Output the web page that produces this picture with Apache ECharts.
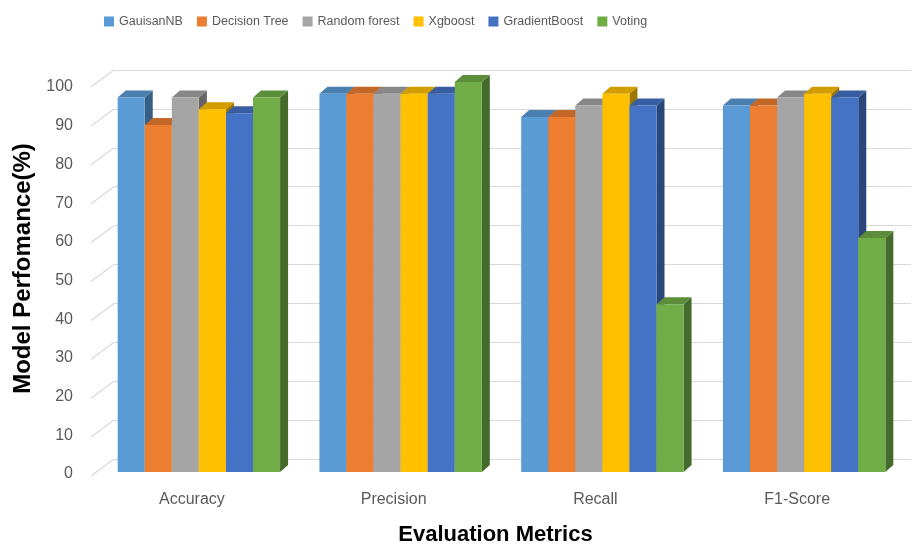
<!DOCTYPE html>
<html><head><meta charset="utf-8">
<script src="https://cdn.jsdelivr.net/npm/echarts@6/dist/echarts.min.js"></script>
<style>html,body{margin:0;padding:0;background:#fff}#c{width:921px;height:544px}</style>
</head><body><div id="c"></div>
<script>
const categories = ['Accuracy', 'Precision', 'Recall', 'F1-Score'];
const models = ['GauisanNB', 'Decision Tree', 'Random forest', 'Xgboost', 'GradientBoost', 'Voting'];
const gaussianNB    = [96, 97, 91, 94];
const decisionTree  = [89, 97, 91, 94];
const randomForest  = [96, 97, 94, 96];
const xgboost       = [93, 97, 97, 97];
const gradientBoost = [92, 97, 94, 96];
const voting        = [96, 100, 43, 60];
const yTicks = [0, 10, 20, 30, 40, 50, 60, 70, 80, 90, 100];
const colors = ['#5B9BD5', '#ED7D31', '#A5A5A5', '#FFC000', '#4472C4', '#70AD47'];
const seriesValues = [gaussianNB, decisionTree, randomForest, xgboost, gradientBoost, voting];

function shade(hex, f) {
  const n = parseInt(hex.slice(1), 16);
  const r = Math.round(((n >> 16) & 255) * f), g = Math.round(((n >> 8) & 255) * f), b = Math.round((n & 255) * f);
  return 'rgb(' + r + ',' + g + ',' + b + ')';
}

const FONT = "'Liberation Sans', Arial, sans-serif";
const DX = 8, DY = 7;

function barRender(idx) {
  const c = colors[idx];
  return function (params, api) {
    const cat = api.value(0), val = api.value(1);
    const top = api.coord([cat, val]);
    const base = api.coord([cat, 0]);
    const catW = api.size([1, 0])[0];
    const bw = catW * 0.805 / models.length;
    const x0 = top[0] - bw * models.length / 2 + idx * bw;
    const x1 = x0 + bw;
    return {
      type: 'group',
      children: [
        { type: 'polygon', shape: { points: [[x1, top[1]], [x1 + DX, top[1] - DY], [x1 + DX, base[1] - DY], [x1, base[1]]] }, style: { fill: shade(c, 0.62) } },
        { type: 'polygon', shape: { points: [[x0, top[1]], [x0 + DX, top[1] - DY], [x1 + DX, top[1] - DY], [x1, top[1]]] }, style: { fill: shade(c, 0.82) } },
        { type: 'rect', shape: { x: x0, y: top[1], width: bw, height: base[1] - top[1] }, style: { fill: c } }
      ]
    };
  };
}

const barSeries = models.map((m, i) => ({
  name: m,
  type: 'custom',
  xAxisIndex: 1, yAxisIndex: 1,
  itemStyle: { color: colors[i] },
  renderItem: barRender(i),
  encode: { x: 0, y: 1 },
  data: seriesValues[i].map((v, k) => [k, v]),
  z: 3
}));

const sideWall = {
  type: 'custom',
  xAxisIndex: 0, yAxisIndex: 0,
  silent: true,
  renderItem: function (params, api) {
    const p = api.coord([0, api.value(1)]);
    return { type: 'line', shape: { x1: p[0], y1: p[1], x2: p[0] - 23, y2: p[1] + 17 }, style: { stroke: '#d9d9d9', lineWidth: 1.2 } };
  },
  data: yTicks.map(v => [0, v]),
  z: 1
};

const chart = echarts.init(document.getElementById('c'), null, { renderer: 'canvas' });
chart.setOption({
  backgroundColor: '#fff',
  animation: false,
  textStyle: { fontFamily: FONT },
  legend: {
    data: models,
    left: 99, top: 10,
    icon: 'rect', itemWidth: 10, itemHeight: 10, itemGap: 14,
    textStyle: { color: '#595959', fontSize: 12.5, fontFamily: FONT }
  },
  grid: [
    { left: 114, right: 10, top: 70, bottom: 85, outerBoundsMode: 'none', containLabel: false },
    { left: 98, right: 16, top: 82, bottom: 72, outerBoundsMode: 'none', containLabel: false },
    { left: 90, right: 10, top: 87, bottom: 70, outerBoundsMode: 'none', containLabel: false }
  ],
  xAxis: [
    { type: 'value', gridIndex: 0, min: 0, max: 1, show: false },
    {
      type: 'category', gridIndex: 1, data: categories,
      axisLine: { show: false }, axisTick: { show: false },
      axisLabel: { color: '#595959', fontSize: 16, fontFamily: FONT, margin: 20, padding: [0, 14, 0, 0] },
      name: 'Evaluation Metrics', nameLocation: 'middle', nameGap: 52,
      nameTextStyle: { color: '#000', fontSize: 22, fontWeight: 'bold', fontFamily: FONT, padding: [0, 12, 0, 0] }
    },
    { type: 'value', gridIndex: 2, min: 0, max: 1, show: false }
  ],
  yAxis: [
    {
      type: 'value', gridIndex: 0, min: 0, max: 100, interval: 10,
      axisLine: { show: false }, axisTick: { show: false }, axisLabel: { show: false },
      splitLine: { lineStyle: { color: '#d9d9d9', width: 1.2 } }
    },
    { type: 'value', gridIndex: 1, min: 0, max: 100, interval: 10, show: false },
    {
      type: 'value', gridIndex: 2, min: 0, max: 100, interval: 10,
      axisLine: { show: false }, axisTick: { show: false }, splitLine: { show: false },
      axisLabel: { color: '#595959', fontSize: 16, fontFamily: FONT, margin: 17 },
      name: 'Model Perfomance(%)', nameLocation: 'middle', nameRotate: 90, nameGap: 54,
      nameTextStyle: { color: '#000', fontSize: 24, fontWeight: 'bold', fontFamily: FONT, padding: [0, 0, 0, 24] }
    }
  ],
  series: [sideWall].concat(barSeries)
});
</script>
</body></html>
